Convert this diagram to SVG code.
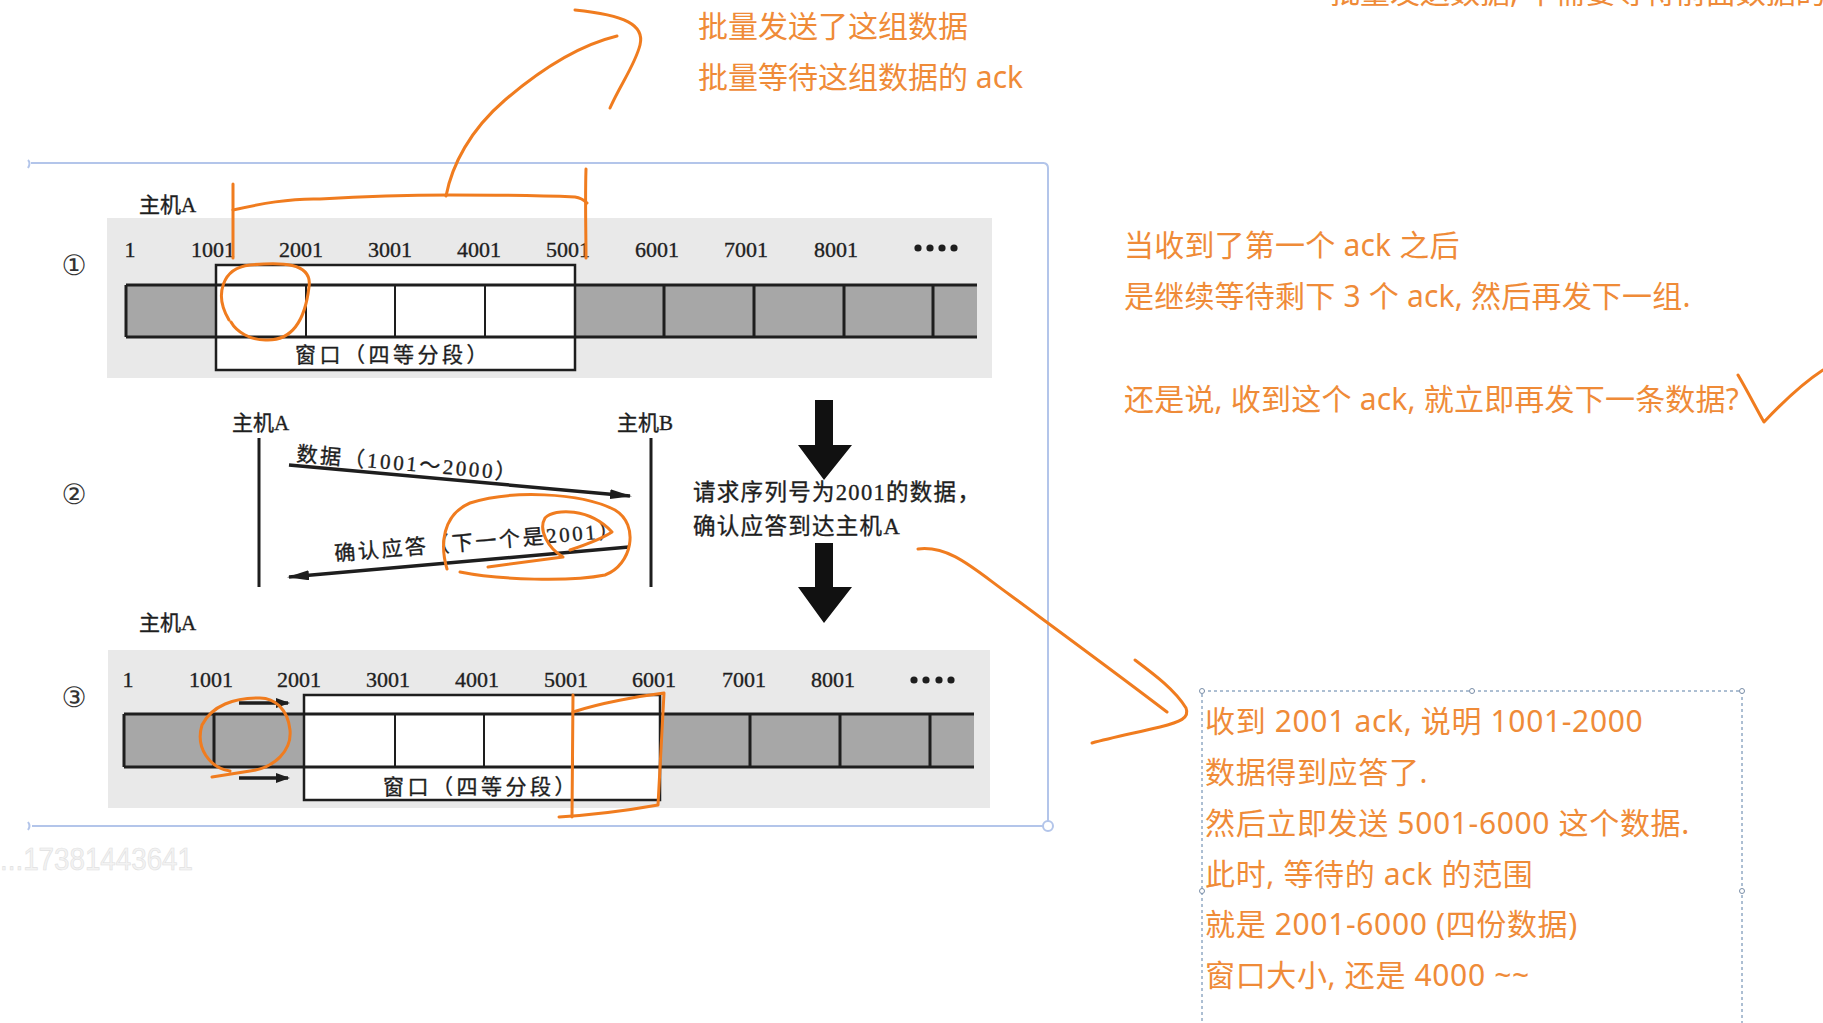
<svg xmlns="http://www.w3.org/2000/svg" width="1823" height="1023" viewBox="0 0 1823 1023">
<style>
.note{font-family:"Noto Sans","Noto Sans CJK SC",sans-serif;font-size:30px;fill:#ef8b38}
.wide{letter-spacing:0.65px}
.mid{letter-spacing:0.2px}
.book{font-family:"Liberation Serif","Noto Sans CJK SC",serif;fill:#1e1e1e;stroke:#1e1e1e;stroke-width:0.35}
.num{font-size:22px;text-anchor:middle}
.lbl{font-size:21px}
.big{font-size:22.5px;letter-spacing:1.3px}
.circ{font-family:"DejaVu Sans","Noto Sans CJK SC",sans-serif;font-size:28px;fill:#333;text-anchor:middle}
.hand{fill:none;stroke:#f07c1f;stroke-width:3;stroke-linecap:round;stroke-linejoin:round}
.ln{stroke:#1e1e1e;fill:none}
.thin{stroke-width:2}
.thick{stroke-width:3}
.gray{fill:#a7a7a7}
.band{fill:#e9e9e9}
.win{fill:#ffffff;stroke:#1e1e1e;stroke-width:2.5}
.frame{stroke:#b3c5ea;stroke-width:2;fill:none}
.handle{fill:#ffffff;stroke:#7a8ea8;stroke-width:1}
.dot{fill:#1e1e1e}
</style>
<defs>
<marker id="ah" viewBox="0 0 22 10" refX="20" refY="5" markerWidth="22" markerHeight="10" markerUnits="userSpaceOnUse" orient="auto"><path d="M0,0 L22,5 L0,10 z" fill="#1e1e1e"/></marker>
<marker id="ahs" viewBox="0 0 14 10" refX="12" refY="5" markerWidth="14" markerHeight="10" markerUnits="userSpaceOnUse" orient="auto"><path d="M0,0 L14,5 L0,10 z" fill="#1e1e1e"/></marker>
</defs>
<rect width="1823" height="1023" fill="#ffffff"/>

<!-- top cut-off note -->
<g id="note-top-cut"><text class="note" x="1330" y="3">批量发送数据, 不需要等待前面数据的 ack</text></g>

<!-- image selection frame -->
<g id="frame">
<path class="frame" d="M31,163 L1044,163"/>
<path class="frame" d="M28,160 Q31,163 28,168"/>
<path class="frame" d="M1044,163 Q1048,164 1048,168 L1048,821"/>
<path class="frame" d="M32,826 L1043,826"/>
<path class="frame" d="M28,822 Q31,826 28,830"/>
<circle cx="1048" cy="826" r="5" fill="#ffffff" stroke="#b3c5ea" stroke-width="2"/>
</g>

<!-- section 1 -->
<g id="section1">
<rect class="band" x="107" y="218" width="885" height="160"/>
<text class="book lbl" x="139" y="212">主机A</text>
<text class="circ" x="74" y="275">①</text>
<rect class="gray" x="126" y="285" width="90" height="52"/>
<rect class="gray" x="575" y="285" width="402" height="52"/>
<rect class="win" x="216" y="265" width="359" height="105"/>
<path class="ln thick" d="M126,285 L977,285 M126,337 L977,337"/>
<path class="ln thick" d="M126,285 L126,337"/>
<path class="ln thin" d="M306,285 L306,337 M395,285 L395,337 M485,285 L485,337"/>
<path class="ln thick" d="M664,285 L664,337 M754,285 L754,337 M844,285 L844,337 M933,285 L933,337"/>
<g class="book num">
<text x="130" y="257">1</text><text x="213" y="257">1001</text><text x="301" y="257">2001</text><text x="390" y="257">3001</text><text x="479" y="257">4001</text><text x="568" y="257">5001</text><text x="657" y="257">6001</text><text x="746" y="257">7001</text><text x="836" y="257">8001</text>
</g>
<circle class="dot" cx="918" cy="248" r="3.6"/><circle class="dot" cx="930" cy="248" r="3.6"/><circle class="dot" cx="942" cy="248" r="3.6"/><circle class="dot" cx="954" cy="248" r="3.6"/>
<text class="book lbl" x="393" y="362" text-anchor="middle" letter-spacing="3.5">窗口（四等分段）</text>
</g>

<!-- section 2 -->
<g id="section2">
<text class="circ" x="74" y="504">②</text>
<text class="book lbl" x="232" y="430">主机A</text>
<text class="book lbl" x="617" y="430">主机B</text>
<path class="ln thick" d="M259,438 L259,587 M651,438 L651,587"/>
<text class="book lbl" x="296" y="461" letter-spacing="2.6" transform="rotate(5 296 461)">数据（1001～2000）</text>
<text class="book lbl" x="335" y="561" letter-spacing="2.6" transform="rotate(-4.8 335 561)">确认应答（下一个是2001）</text>
<text class="book big" x="693" y="500">请求序列号为2001的数据，</text>
<text class="book big" x="693" y="534">确认应答到达主机A</text>
</g>

<!-- section 3 -->
<g id="section3">
<text class="book lbl" x="139" y="630">主机A</text>
<rect class="band" x="108" y="650" width="882" height="158"/>
<text class="circ" x="74" y="707">③</text>
<rect class="gray" x="124" y="714" width="180" height="53"/>
<rect class="gray" x="660" y="714" width="314" height="53"/>
<rect class="win" x="304" y="695" width="356" height="105"/>
<path class="ln thick" d="M124,714 L974,714 M124,767 L974,767"/>
<path class="ln thick" d="M124,714 L124,767 M214,714 L214,767"/>
<path class="ln thin" d="M395,714 L395,767 M484,714 L484,767 M573,714 L573,767"/>
<path class="ln thick" d="M750,714 L750,767 M840,714 L840,767 M930,714 L930,767"/>
<g class="book num">
<text x="128" y="687">1</text><text x="211" y="687">1001</text><text x="299" y="687">2001</text><text x="388" y="687">3001</text><text x="477" y="687">4001</text><text x="566" y="687">5001</text><text x="654" y="687">6001</text><text x="744" y="687">7001</text><text x="833" y="687">8001</text>
</g>
<circle class="dot" cx="914" cy="680" r="3.6"/><circle class="dot" cx="926" cy="680" r="3.6"/><circle class="dot" cx="939" cy="680" r="3.6"/><circle class="dot" cx="951" cy="680" r="3.6"/>
<text class="book lbl" x="481" y="794" text-anchor="middle" letter-spacing="3.5">窗口（四等分段）</text>
</g>

<!-- watermark -->
<g id="watermark"><text x="0" y="870" font-family="Liberation Sans,sans-serif" font-size="31" fill="#f3f3f3" stroke="#e0e0e0" stroke-width="0.6" textLength="193" lengthAdjust="spacingAndGlyphs">...17381443641</text></g>

<!-- notes -->
<g id="note-top">
<text class="note" x="698" y="37">批量发送了这组数据</text>
<text class="note" x="698" y="88">批量等待这组数据的 ack</text>
</g>
<g id="note-right">
<text class="note mid" x="1124" y="256">当收到了第一个 ack 之后</text>
<text class="note mid" x="1124" y="307">是继续等待剩下 3 个 ack, 然后再发下一组.</text>
<text class="note mid" x="1124" y="410">还是说, 收到这个 ack, 就立即再发下一条数据?</text>
</g>
<g id="note-box">
<rect x="1202" y="691" width="540" height="345" fill="none" stroke="#5b7fa6" stroke-width="1" stroke-dasharray="3,3"/>
<circle class="handle" cx="1202" cy="691" r="2.5"/><circle class="handle" cx="1472" cy="691" r="2.5"/><circle class="handle" cx="1742" cy="691" r="2.5"/><circle class="handle" cx="1202" cy="891" r="2.5"/><circle class="handle" cx="1742" cy="891" r="2.5"/>
<text class="note wide" x="1205" y="732">收到 2001 ack, 说明 1001-2000</text>
<text class="note wide" x="1205" y="783">数据得到应答了.</text>
<text class="note wide" x="1205" y="834">然后立即发送 5001-6000 这个数据.</text>
<text class="note wide" x="1205" y="885">此时, 等待的 ack 的范围</text>
<text class="note wide" x="1205" y="935">就是 2001-6000 (四份数据)</text>
<text class="note wide" x="1205" y="986">窗口大小, 还是 4000 ~~</text>
</g>

<!-- connectors -->
<g id="connectors">
<path class="ln" stroke-width="3.5" d="M289,465 L630,496" marker-end="url(#ah)"/>
<path class="ln" stroke-width="3.5" d="M629,547 L289,577" marker-end="url(#ah)"/>
<path d="M815,400 L833,400 L833,445 L852,445 L824,480 L798,445 L815,445 Z" fill="#111"/>
<path d="M815,543 L833,543 L833,587 L852,587 L824,623 L798,587 L815,587 Z" fill="#111"/>
<path class="ln" stroke-width="3.5" d="M239,703 L288,703" marker-end="url(#ahs)"/>
<path class="ln" stroke-width="3.5" d="M239,778 L288,778" marker-end="url(#ahs)"/>
<!-- handwritten -->
<path class="hand" d="M233,184 L233,258"/>
<path class="hand" d="M586,169 C585,200 586,230 586,258"/>
<path class="hand" d="M233,210 C260,204 290,198 320,199 C370,196 410,195 450,195 C500,195 550,196 575,197 C582,198 585,201 587,203"/>
<path class="hand" d="M446,196 C452,165 470,130 505,100 C540,70 580,45 617,36"/>
<path class="hand" d="M610,108 C620,85 635,65 640,45 C645,25 625,15 575,10"/>
<path class="hand" d="M229,320 C214,295 222,268 250,265 C280,262 313,262 309,287 C306,312 297,340 268,340 C250,341 236,331 231,322"/>
<path class="hand" d="M447,569 C440,545 442,515 470,503 C510,490 580,492 615,510 C640,525 632,565 605,575 C570,582 500,580 460,572"/>
<path class="hand" d="M488,567 L563,557 C548,548 538,530 545,518 C555,508 590,508 612,532 C600,540 585,545 570,550"/>
<path class="hand" d="M918,549 C950,545 975,570 1010,595 C1060,632 1120,676 1167,712"/>
<path class="hand" d="M1135,660 C1155,675 1175,690 1186,708 C1190,718 1180,722 1160,727 C1130,734 1110,738 1092,743"/>
<path class="hand" d="M212,777 L250,771 C275,768 292,750 290,730 C288,710 275,697 258,698 C235,698 212,705 202,725 C195,748 210,768 230,771"/>
<path class="hand" d="M573,695 L572,817"/>
<path class="hand" d="M573,712 C600,703 640,696 664,693 C662,730 660,770 658,805 C630,810 590,815 559,817"/>
<path class="hand" d="M1738,375 C1748,392 1756,408 1764,422 C1780,405 1800,385 1823,370"/>
</g>
</svg>
